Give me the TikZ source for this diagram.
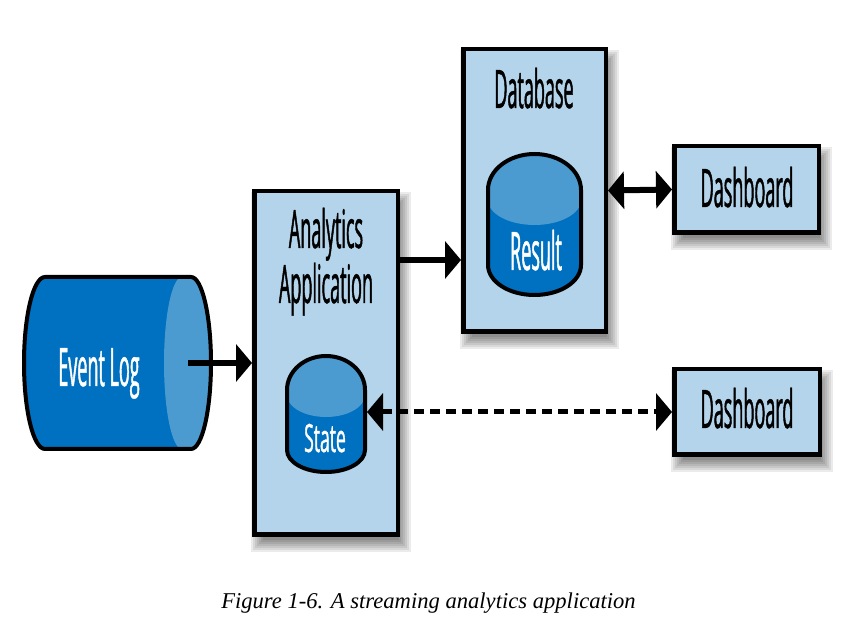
\documentclass[tikz,border=0pt]{standalone}
\usepackage{fontspec}
\setmainfont{Liberation Serif}
\newfontfamily\lblfont[FakeStretch=0.34,FakeBold=0.8]{Open Sans}
\newfontfamily\statefont[FakeStretch=0.45,FakeBold=0.8]{Open Sans}
\usetikzlibrary{arrows.meta,backgrounds,calc}
\definecolor{boxblue}{RGB}{179,212,234}
\definecolor{cyldark}{RGB}{0,112,192}
\definecolor{cyllight}{RGB}{76,155,208}
\newcommand\softshadow[1]{%
  \foreach \e in {-6,-4,...,6}{%
    \fill[black,opacity=0.08] ([shift={(5-\e,-9-\e)}]#1.south west) rectangle ([shift={(5+\e,-9+\e)}]#1.north east);
  }}
\tikzset{
  box/.style={draw=black, line width=4.5pt, fill=boxblue, inner sep=0pt},
  lbl/.style={font=\lblfont\fontsize{53}{55}\selectfont, inner sep=0pt, anchor=base},
  wlbl/.style={lbl, text=white},
  cylout/.style={draw=black, line width=4pt, line join=round},
  tipa/.tip={Triangle[length=16pt,width=37pt]},
  conn/.style={line width=6pt, -tipa},
  conn2/.style={line width=6pt, tipa-tipa},
  dconn/.style={line width=5pt, dash pattern=on 10pt off 6pt, tipa-tipa},
}
\begin{document}
\begin{tikzpicture}[x=1pt,y=1pt]
\useasboundingbox (0,0) rectangle (860,640);

% boxes
\node[box, minimum width=143.5pt, minimum height=343.5pt] (analytics) at (326,277) {};
\node[box, minimum width=142.5pt, minimum height=282.5pt] (database) at (534.5,449.5) {};
\node[box, minimum width=144.5pt, minimum height=86.5pt] (dash1) at (746.5,450.5) {};
\node[box, minimum width=145.5pt, minimum height=85.5pt] (dash2) at (747,228) {};

% Event Log cylinder (horizontal)
\path[fill=cyldark] (45,363) -- (191,363) arc[start angle=90,end angle=-90,x radius=20,y radius=86]
  -- (45,191) arc[start angle=270,end angle=90,x radius=21,y radius=86] -- cycle;
\path[fill=cyllight] (182,363) -- (191,363) arc[start angle=90,end angle=-90,x radius=20,y radius=86]
  -- (182,191) arc[start angle=270,end angle=90,x radius=18,y radius=86] -- cycle;
\path[cylout] (45,363) -- (191,363) arc[start angle=90,end angle=-90,x radius=20,y radius=86]
  -- (45,191) arc[start angle=270,end angle=90,x radius=21,y radius=86] -- cycle;

% State cylinder
\path[fill=cyldark] (287,250) arc[start angle=180,end angle=0,x radius=39,y radius=34]
  -- (365,190) arc[start angle=0,end angle=-180,x radius=39,y radius=22] -- cycle;
\path[fill=cyllight] (287,245) -- (287,250) arc[start angle=180,end angle=0,x radius=39,y radius=34]
  -- (365,245) arc[start angle=0,end angle=-180,x radius=39,y radius=22] -- cycle;
\path[cylout] (287,250) arc[start angle=180,end angle=0,x radius=39,y radius=34]
  -- (365,190) arc[start angle=0,end angle=-180,x radius=39,y radius=22] -- cycle;

% Result cylinder
\path[fill=cyldark] (488,450) arc[start angle=180,end angle=0,x radius=46.5,y radius=36]
  -- (581,375) arc[start angle=0,end angle=-180,x radius=46.5,y radius=30] -- cycle;
\path[fill=cyllight] (488,440) -- (488,450) arc[start angle=180,end angle=0,x radius=46.5,y radius=36]
  -- (581,440) arc[start angle=0,end angle=-180,x radius=46.5,y radius=25] -- cycle;
\path[cylout] (488,450) arc[start angle=180,end angle=0,x radius=46.5,y radius=36]
  -- (581,375) arc[start angle=0,end angle=-180,x radius=46.5,y radius=30] -- cycle;

\coordinate (elcap) at (188,277);
\coordinate (stateR) at (367,228);

% labels
\node[lbl] (anl1) at (326,392) {Analytics};
\node[lbl] (anl2) at (326,337) {Application};
\node[lbl] (dbl) at (534,532) {Database};
\node[lbl] (d1l) at (747,433) {Dashboard};
\node[lbl] (d2l) at (747,212) {Dashboard};
\node[wlbl] (ell) at (99,254) {Event Log};
\node[wlbl] (resl) at (536,370) {Result};
\node[wlbl, font=\statefont\fontsize{39}{41}\selectfont] (stl) at (325,188) {State};

% connectors
\draw[conn] (elcap) -- (analytics.west);
\draw[conn] (analytics.east |- 0,380) -- (database.west |- 0,380);
\draw[conn2] (database.east) -- (dash1.west);
\draw[dconn] (stateR) -- (dash2.west);

% caption
\node[font=\itshape\fontsize{22.6}{26}\selectfont, anchor=base, inner sep=0pt] (caption) at (428.5,31) {Figure 1-6. A streaming analytics application};

\begin{scope}[on background layer]
  \fill[white] (0,0) rectangle (860,640);
  \softshadow{analytics}
  \softshadow{database}
  \softshadow{dash1}
  \softshadow{dash2}
\end{scope}
\end{tikzpicture}
\end{document}
